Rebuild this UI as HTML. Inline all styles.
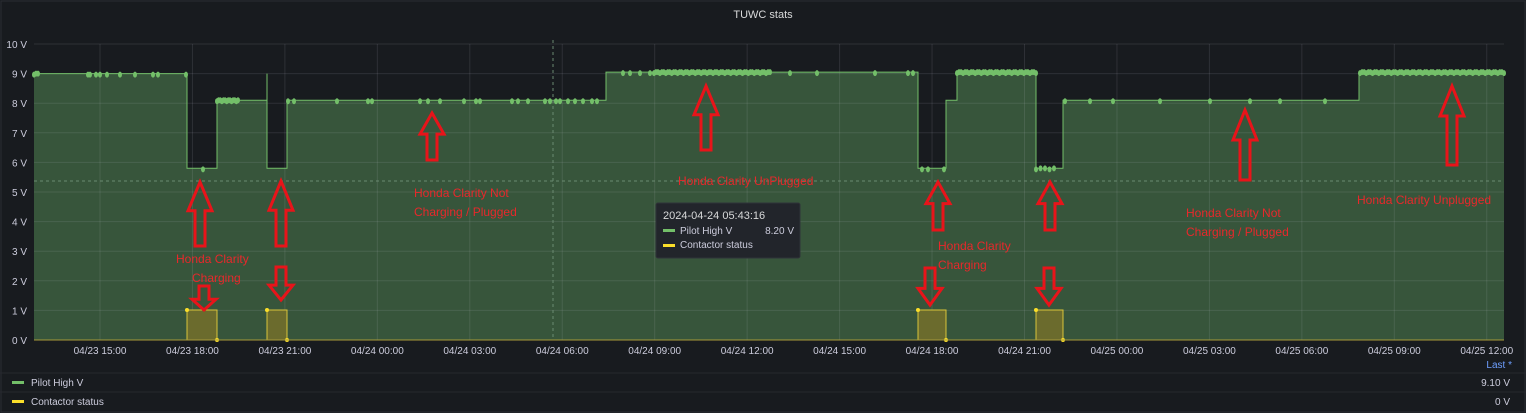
<!DOCTYPE html>
<html><head><meta charset="utf-8">
<style>
html,body{margin:0;padding:0;background:#181b1f;width:1526px;height:413px;overflow:hidden;font-family:"Liberation Sans",sans-serif}
svg{position:absolute;left:0;top:0}
.t{font-size:11px;fill:#ccccdc}
.r{font-size:12px;fill:#e8282b}
</style></head><body>
<svg id="s" width="1526" height="413" xmlns="http://www.w3.org/2000/svg">
<rect x="0" y="0" width="1526" height="413" fill="#181b1f"/>
<rect x="1" y="1" width="1524" height="411" fill="none" stroke="#2a2d33"/>
<text x="763" y="18" text-anchor="middle" class="t" style="font-size:11px;fill:#d8d9da">TUWC stats</text>
<g id="grid"></g>
<g id="data"></g>
<g id="arrows"></g>
<text x="414" y="197" class="r">Honda Clarity Not</text>
<text x="414" y="216" class="r">Charging / Plugged</text>
<text x="678" y="185" class="r">Honda Clarity UnPlugged</text>
<text x="176" y="263" class="r">Honda Clarity</text>
<text x="192" y="282" class="r">Charging</text>
<text x="938" y="250" class="r">Honda Clarity</text>
<text x="938" y="269" class="r">Charging</text>
<text x="1186" y="217" class="r">Honda Clarity Not</text>
<text x="1186" y="236" class="r">Charging / Plugged</text>
<text x="1357" y="204" class="r">Honda Clarity Unplugged</text>
<g>
<rect x="656" y="203" width="144" height="55" rx="2" fill="#22252b" stroke="#2f3238"/>
<text x="663" y="219" class="t" style="fill:#d8d9da">2024-04-24 05:43:16</text>
<rect x="663" y="229" width="12" height="3" fill="#73bf69"/>
<text x="680" y="234" class="t" style="font-size:10px">Pilot High V</text>
<text x="794" y="234" class="t" text-anchor="end" style="font-size:10px">8.20 V</text>
<rect x="663" y="244" width="12" height="3" fill="#fade2a"/>
<text x="680" y="248" class="t" style="font-size:10px">Contactor status</text>
</g>
<line x1="0" y1="373" x2="1526" y2="373" stroke="#26292e"/>
<line x1="0" y1="392" x2="1526" y2="392" stroke="#26292e"/>
<text x="1512" y="368" text-anchor="end" style="font-size:10px;fill:#6e9fff">Last *</text>
<rect x="12" y="381" width="12" height="3" fill="#73bf69"/>
<text x="31" y="386" class="t" style="font-size:10px">Pilot High V</text>
<text x="1510" y="386" class="t" text-anchor="end" style="font-size:10px">9.10 V</text>
<rect x="12" y="400" width="12" height="3" fill="#fade2a"/>
<text x="31" y="405" class="t" style="font-size:10px">Contactor status</text>
<text x="1510" y="405" class="t" text-anchor="end" style="font-size:10px">0 V</text>
</svg>
<script>
var NS="http://www.w3.org/2000/svg";
function el(p,n,a){var e=document.createElementNS(NS,n);for(var k in a)e.setAttribute(k,a[k]);document.getElementById(p).appendChild(e);return e;}
var X0=34,X1=1504,Y=function(v){return 340-29.6*v;};
// background plot
el("grid","rect",{x:X0,y:Y(10),width:X1-X0,height:296,fill:"#181b1f"});
// data fill
var pts=[[34,9],[187,9],[187,5.8],[217,5.8],[217,8.1],[267,8.1],[267,9],[267,5.8],[287,5.8],[287,8.1],[606,8.1],[606,9.05],[918,9.05],[918,5.8],[946,5.8],[946,8.1],[957,8.1],[957,9.05],[1036,9.05],[1036,5.8],[1063,5.8],[1063,8.1],[1359,8.1],[1359,9.05],[1504,9.05]];
var d="M34,340 ";pts.forEach(function(p){d+="L"+p[0]+","+Y(p[1]).toFixed(1)+" ";});d+="L1504,340Z";
el("data","path",{d:d,fill:"#37553b"});
var l="M";pts.forEach(function(p,i){l+=(i?"L":"")+p[0]+","+Y(p[1]).toFixed(1)+" ";});
// grid lines
for(var v=0;v<=10;v++){var y=Y(v);el("data","line",{x1:X0,x2:X1,y1:y,y2:y,stroke:"rgba(204,204,220,0.12)"});
 var t=el("grid","text",{x:27,y:y+4,"text-anchor":"end","class":"t","style":"font-size:10px"});t.textContent=v+" V";}
var labs=["04/23 15:00","04/23 18:00","04/23 21:00","04/24 00:00","04/24 03:00","04/24 06:00","04/24 09:00","04/24 12:00","04/24 15:00","04/24 18:00","04/24 21:00","04/25 00:00","04/25 03:00","04/25 06:00","04/25 09:00","04/25 12:00"];
labs.forEach(function(s,i){var x=100+i*92.45;el("data","line",{x1:x,x2:x,y1:Y(10),y2:340,stroke:"rgba(204,204,220,0.12)"});
 var t=el("grid","text",{x:x,y:354,"text-anchor":"middle","class":"t","style":"font-size:10px"});t.textContent=s;});
el("data","path",{d:l,fill:"none",stroke:"#73bf69","stroke-width":1});
// dots
function dots(a,b,v,n){for(var i=0;i<n;i++){var x=a+(b-a)*i/Math.max(1,n-1);el("data","ellipse",{cx:x,cy:Y(v)+(i%3?0:1),rx:2,ry:3,fill:"#73bf69"});}}
dots(34,38,9,3);[88,90,96,100,107,120,135,153,158,186].forEach(function(x){dots(x,x,9,1)});
dots(217,238,8.1,14);[288,294,337,368,372,420,428,440,464,476,480,512,518,528,545,550,556,560,568,575,583,592,597].forEach(function(x){dots(x,x,8.1,1)});
dots(654,770,9.05,60);[623,630,640,650,790,817,875,908,913].forEach(function(x){dots(x,x,9.05,1)});
dots(957,1036,9.05,40);dots(1036,1054,5.8,5);[203,922,928,944].forEach(function(x){dots(x,x,5.8,1)});
[1065,1090,1113,1160,1210,1250,1280,1325].forEach(function(x){dots(x,x,8.1,1)});
dots(1360,1504,9.05,70);
// crosshair
el("data","line",{x1:X0,x2:X1,y1:181,y2:181,stroke:"#6a8a70","stroke-dasharray":"3,3"});
el("data","line",{x1:553,x2:553,y1:40,y2:340,stroke:"#6a8a70","stroke-dasharray":"3,3"});
// contactor
[[187,217],[267,287],[918,946],[1036,1063]].forEach(function(r){
 el("data","path",{d:"M"+r[0]+",340 L"+r[0]+",310 L"+r[1]+",310 L"+r[1]+",340",fill:"#6b6b2d",stroke:"#d8c43a","stroke-width":1});
 el("data","circle",{cx:r[0],cy:310,r:2,fill:"#fade2a"});el("data","circle",{cx:r[1],cy:340,r:2,fill:"#fade2a"});});
el("data","line",{x1:X0,x2:X1,y1:340,y2:340,stroke:"#a79a3a","stroke-width":1});
// arrows
function arrow(cx,top,bot,up,hw,sw){hw=hw||12;sw=sw||5;var L=bot-top,hh=Math.min(L*0.45,30);var d;
 if(up){d="M"+cx+","+top+" L"+(cx+hw)+","+(top+hh)+" L"+(cx+sw)+","+(top+hh)+" L"+(cx+sw)+","+bot+" L"+(cx-sw)+","+bot+" L"+(cx-sw)+","+(top+hh)+" L"+(cx-hw)+","+(top+hh)+"Z";}
 else{d="M"+cx+","+bot+" L"+(cx+hw)+","+(bot-hh)+" L"+(cx+sw)+","+(bot-hh)+" L"+(cx+sw)+","+top+" L"+(cx-sw)+","+top+" L"+(cx-sw)+","+(bot-hh)+" L"+(cx-hw)+","+(bot-hh)+"Z";}
 el("arrows","path",{d:d,fill:"none",stroke:"#e8141a","stroke-width":3,"stroke-linejoin":"miter"});}
arrow(200,182,246,true);arrow(281,181,246,true);arrow(432,113,160,true);arrow(706,86,150,true);
arrow(938,182,230,true);arrow(1050,182,230,true);arrow(1245,110,180,true);arrow(1452,86,165,true);
arrow(204,286,310,false);arrow(281,267,300,false);arrow(930,268,305,false);arrow(1049,268,305,false);
</script>
</body></html>
